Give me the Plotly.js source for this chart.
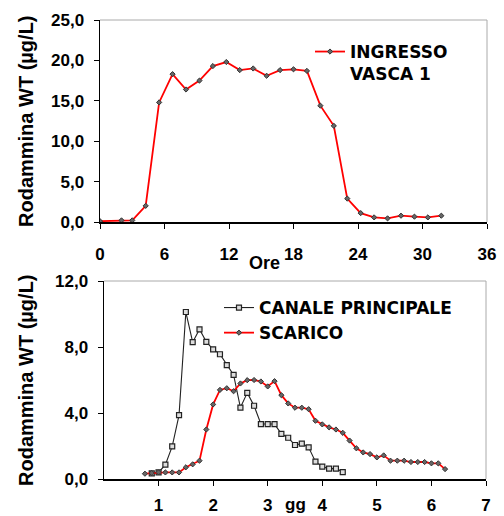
<!DOCTYPE html>
<html><head><meta charset="utf-8">
<script src="https://cdn.plot.ly/plotly-3.0.1.min.js"></script>
<style>html,body{margin:0;padding:0;background:#fff}#chart{width:504px;height:516px}</style>
</head><body><div id="chart"></div>
<script>
// Top chart: INGRESSO VASCA 1 (hours)
const oreX = [0,2,3,4.25,5.5,6.75,8,9.25,10.5,11.75,13,14.25,15.5,16.75,18,19.25,20.5,21.75,23,24.25,25.5,26.75,28,29.25,30.5,31.75];
const ingressoY = [0.1,0.2,0.2,2.0,14.8,18.3,16.4,17.5,19.3,19.8,18.8,19.0,18.1,18.8,18.9,18.7,14.4,11.9,2.9,1.1,0.57,0.45,0.78,0.66,0.57,0.78];

// Bottom chart (days)
const canaleX = [0.875,1,1.125,1.25,1.375,1.5,1.625,1.75,1.875,2,2.125,2.25,2.375,2.5,2.625,2.75,2.875,3,3.125,3.25,3.375,3.5,3.625,3.75,3.875,4,4.125,4.25,4.375];
const canaleY = [0.34,0.4,0.87,1.98,3.87,10.12,8.29,9.07,8.31,7.86,7.56,6.9,6.31,4.33,5.22,4.44,3.33,3.33,3.33,2.74,2.5,2.06,2.14,1.92,1.05,0.75,0.63,0.63,0.42];
const scaricoX = [0.75,0.875,1,1.125,1.25,1.375,1.5,1.625,1.75,1.875,2,2.125,2.25,2.375,2.5,2.625,2.75,2.875,3,3.125,3.25,3.375,3.5,3.625,3.75,3.875,4,4.125,4.25,4.375,4.5,4.625,4.75,4.875,5,5.125,5.25,5.375,5.5,5.625,5.75,5.875,6,6.125,6.25];
const scaricoY = [0.32,0.36,0.4,0.4,0.4,0.4,0.71,0.89,1.11,3.0,4.52,5.4,5.5,5.32,5.79,5.99,6.0,5.91,5.61,5.93,5.08,4.58,4.32,4.32,4.23,3.53,3.31,3.13,3.0,2.8,2.33,1.86,1.61,1.51,1.31,1.43,1.11,1.11,1.11,1.03,1.03,1.03,0.95,0.95,0.6];

const topTicks = [0,6,12,18,24,30,36];
const topYTicks = [0,5,10,15,20,25];
const botTicks = [1,2,3,4,5,6,7];
const botYTicks = [0,4,8,12];

const FONT = "Liberation Sans, Arial, sans-serif";
const LEGFONT = "DejaVu Sans, Liberation Sans, Arial, sans-serif";
const tickFont = {family: FONT, size: 17, color: '#000', weight: 'bold'};
const W = 504, H = 516;
const px = v => v / W;
const py = v => 1 - v / H;

const redMarker = {symbol: 'diamond', size: 4, color: '#666', line: {color: '#333', width: 1}};

const traces = [
  {x: oreX, y: ingressoY, xaxis: 'x', yaxis: 'y', type: 'scatter', mode: 'lines+markers',
   name: 'INGRESSO<br>VASCA 1', legend: 'legend',
   line: {color: '#ff0000', width: 1.8}, marker: redMarker},
  {x: canaleX, y: canaleY, xaxis: 'x2', yaxis: 'y2', type: 'scatter', mode: 'lines+markers',
   name: 'CANALE PRINCIPALE', legend: 'legend2',
   line: {color: '#222', width: 1.1},
   marker: {symbol: 'square', size: 5, color: '#ddd', line: {color: '#222', width: 1.2}}},
  {x: scaricoX, y: scaricoY, xaxis: 'x2', yaxis: 'y2', type: 'scatter', mode: 'lines+markers',
   name: 'SCARICO', legend: 'legend2',
   line: {color: '#ff0000', width: 1.8}, marker: redMarker}
];

const axBase = {
  showgrid: false, zeroline: false, showline: true, linecolor: '#000', linewidth: 1.5,
  ticks: 'outside', ticklen: 5, tickwidth: 1, tickcolor: '#000', tickfont: tickFont
};

const layout = {
  width: W, height: H,
  margin: {l: 0, r: 0, t: 0, b: 0},
  paper_bgcolor: '#fff', plot_bgcolor: '#fff',
  separators: ', ',
  showlegend: true,
  xaxis: Object.assign({}, axBase, {domain: [px(100), px(487)], range: [0, 36],
    tickvals: topTicks, ticktext: topTicks.map(String), ticklabelstandoff: 11, anchor: 'y'}),
  yaxis: Object.assign({}, axBase, {domain: [py(222), py(20)], range: [0, 25],
    tickvals: topYTicks, tickformat: '.1f', ticklabelstandoff: 6, anchor: 'x'}),
  xaxis2: Object.assign({}, axBase, {domain: [px(104), px(486)], range: [0, 7],
    tickvals: botTicks, ticktext: botTicks.map(String), ticklabelstandoff: 5, anchor: 'y2'}),
  yaxis2: Object.assign({}, axBase, {domain: [py(479), py(281)], range: [0, 12],
    tickvals: botYTicks, tickformat: '.1f', ticklabelstandoff: 6, anchor: 'x2'}),
  legend: {x: px(310), y: py(34), xanchor: 'left', yanchor: 'top', bgcolor: 'rgba(0,0,0,0)',
    font: {family: LEGFONT, size: 17, color: '#000', weight: 'bold'}, valign: 'top', borderwidth: 0},
  legend2: {x: px(219), y: py(290), xanchor: 'left', yanchor: 'top', bgcolor: 'rgba(0,0,0,0)',
    font: {family: LEGFONT, size: 17, color: '#000', weight: 'bold'}, borderwidth: 0, tracegroupgap: 0},
  shapes: [
    {type: 'line', xref: 'x domain', yref: 'y domain', x0: 0, x1: 1, y0: 1, y1: 1, line: {color: '#aaa', width: 1}},
    {type: 'line', xref: 'x domain', yref: 'y domain', x0: 1, x1: 1, y0: 0, y1: 1, line: {color: '#aaa', width: 1}},
    {type: 'line', xref: 'x2 domain', yref: 'y2 domain', x0: 0, x1: 1, y0: 1, y1: 1, line: {color: '#aaa', width: 1}},
    {type: 'line', xref: 'x2 domain', yref: 'y2 domain', x0: 1, x1: 1, y0: 0, y1: 1, line: {color: '#aaa', width: 1}}
  ],
  annotations: [
    {text: 'Ore', xref: 'paper', yref: 'paper', x: px(264), y: py(263), xanchor: 'center', yanchor: 'middle',
     showarrow: false, font: {family: FONT, size: 18, color: '#000', weight: 'bold'}},
    {text: 'gg', xref: 'paper', yref: 'paper', x: px(295), y: py(516), xanchor: 'center', yanchor: 'bottom',
     showarrow: false, font: {family: FONT, size: 17, color: '#000', weight: 'bold'}},
    {text: 'Rodammina WT (µg/L)', xref: 'paper', yref: 'paper', x: px(26), y: py(121), textangle: -90,
     xanchor: 'center', yanchor: 'middle', showarrow: false,
     font: {family: "Liberation Sans Narrow, Liberation Sans, Arial, sans-serif", size: 20, color: '#000', weight: 'bold'}},
    {text: 'Rodammina WT (µg/L)', xref: 'paper', yref: 'paper', x: px(26), y: py(380), textangle: -90,
     xanchor: 'center', yanchor: 'middle', showarrow: false,
     font: {family: "Liberation Sans Narrow, Liberation Sans, Arial, sans-serif", size: 20, color: '#000', weight: 'bold'}}
  ]
};

Plotly.newPlot('chart', traces, layout, {staticPlot: true, displayModeBar: false});
</script>
</body></html>
